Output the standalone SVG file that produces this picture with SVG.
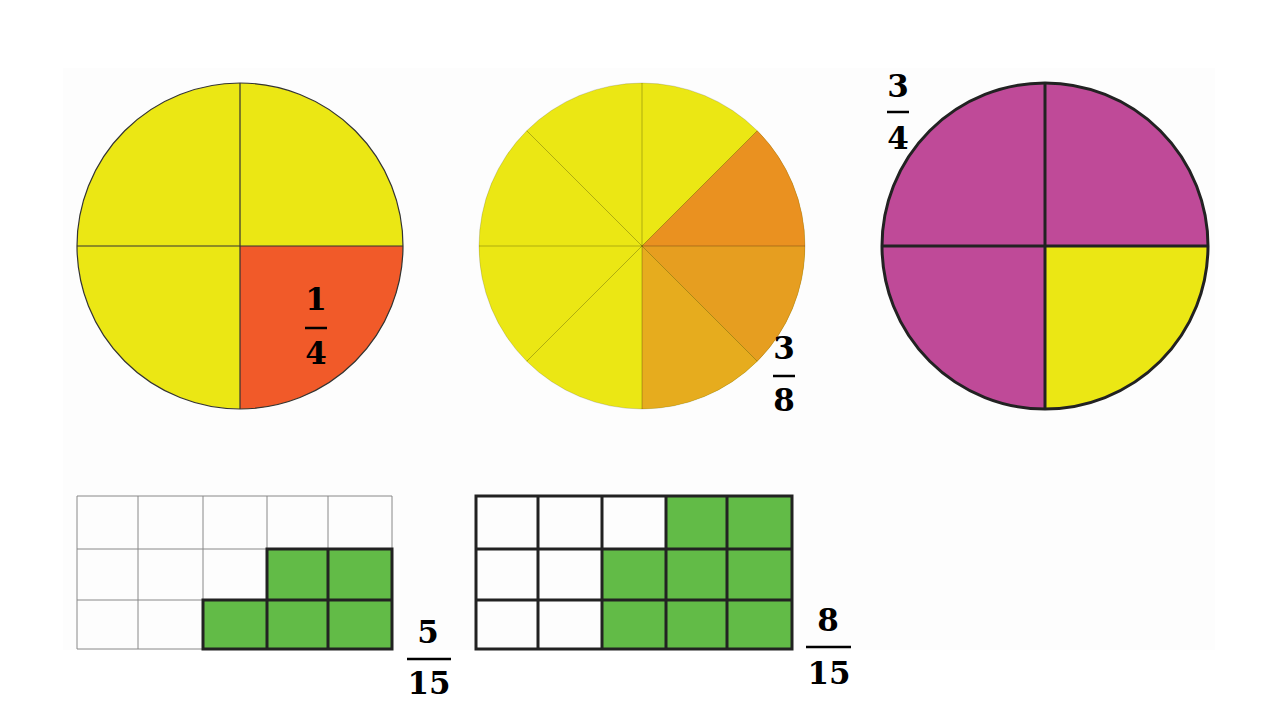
<svg xmlns="http://www.w3.org/2000/svg" width="1280" height="720" viewBox="0 0 1280 720">
<style>
.num{font-family:"DejaVu Serif","Liberation Serif",serif;font-weight:bold;font-size:31px;fill:#000;text-anchor:middle}
.bar{stroke:#000;stroke-width:2.5}
.thin{stroke:#333;stroke-width:1.2;fill:none}
.sec{stroke:#000;stroke-opacity:0.25;stroke-width:1}
.thick{stroke:#222;stroke-width:3;fill:none}
.g{fill:#62BB47}
.gl{stroke:#888;stroke-width:1;fill:none}
.gd{stroke:#222;stroke-width:3;fill:none}
</style>
<rect width="1280" height="720" fill="#ffffff"/>
<rect x="63" y="68" width="1152" height="582" fill="#fdfdfd"/>

<g id="circle-quarter">
  <circle cx="240" cy="246" r="163" fill="#EBE714"/>
  <path d="M240,246 L403,246 A163,163 0 0 1 240,409 Z" fill="#F15A29"/>
  <circle cx="240" cy="246" r="163" class="thin"/>
  <line x1="240" y1="83" x2="240" y2="409" class="thin"/>
  <line x1="77" y1="246" x2="403" y2="246" class="thin"/>
  <text x="316" y="310" class="num">1</text>
  <line x1="305" y1="328" x2="327" y2="328" class="bar"/>
  <text x="316" y="364" class="num">4</text>
</g>

<g id="circle-eighths">
  <circle cx="642" cy="246" r="163" fill="#EBE714"/>
  <path d="M642,246 L757.3,130.7 A163,163 0 0 1 805,246 Z" fill="#EA9120"/>
  <path d="M642,246 L805,246 A163,163 0 0 1 757.3,361.3 Z" fill="#E69E20"/>
  <path d="M642,246 L757.3,361.3 A163,163 0 0 1 642,409 Z" fill="#E6AC1E"/>
  <circle cx="642" cy="246" r="163" fill="none" stroke="#000" stroke-opacity="0.15" stroke-width="1"/>
  <line x1="642" y1="83" x2="642" y2="409" class="sec"/>
  <line x1="479" y1="246" x2="805" y2="246" class="sec"/>
  <line x1="526.7" y1="130.7" x2="757.3" y2="361.3" class="sec"/>
  <line x1="757.3" y1="130.7" x2="526.7" y2="361.3" class="sec"/>
  <text x="784" y="359" class="num">3</text>
  <line x1="773" y1="376" x2="795" y2="376" class="bar"/>
  <text x="784" y="411" class="num">8</text>
</g>

<g id="circle-three-quarters">
  <circle cx="1045" cy="246" r="163" fill="#BF4A98"/>
  <path d="M1045,246 L1208,246 A163,163 0 0 1 1045,409 Z" fill="#EBE714"/>
  <circle cx="1045" cy="246" r="163" class="thick"/>
  <line x1="1045" y1="83" x2="1045" y2="409" class="thick"/>
  <line x1="882" y1="246" x2="1208" y2="246" class="thick"/>
  <text x="898" y="97" class="num">3</text>
  <line x1="887" y1="112" x2="909" y2="112" class="bar"/>
  <text x="898" y="149" class="num">4</text>
</g>

<g id="grid-five-fifteenths">
  <rect x="267" y="549" width="125" height="100" class="g"/>
  <rect x="203" y="600" width="64" height="49" class="g"/>
  <path d="M77,496 H392 V649 H77 Z M138,496 V649 M203,496 V649 M267,496 V649 M328,496 V649 M77,549 H392 M77,600 H392" class="gl"/>
  <path d="M267,549 H392 V649 H203 V600 H267 Z M328,549 V649 M267,600 V649 M267,600 H392" class="gd" stroke-width="2.5"/>
  <text x="428" y="643" class="num">5</text>
  <line x1="407" y1="659" x2="451" y2="659" class="bar"/>
  <text x="429" y="694" class="num">15</text>
</g>

<g id="grid-eight-fifteenths">
  <rect x="666" y="496" width="126" height="53" class="g"/>
  <rect x="602" y="549" width="190" height="100" class="g"/>
  <path d="M476,496 H792 V649 H476 Z M538,496 V649 M602,496 V649 M666,496 V649 M727,496 V649 M476,549 H792 M476,600 H792" class="gd"/>
  <text x="828" y="631" class="num">8</text>
  <line x1="806" y1="647" x2="851" y2="647" class="bar"/>
  <text x="829" y="684" class="num">15</text>
</g>
</svg>
